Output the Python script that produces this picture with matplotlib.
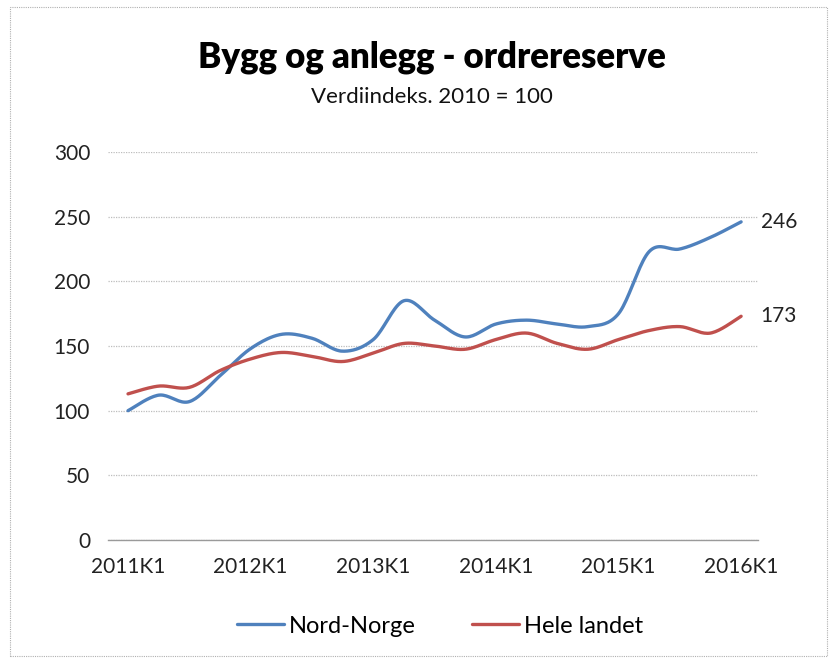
import numpy as np
import matplotlib
matplotlib.use("Agg")
import matplotlib.pyplot as plt
from matplotlib.patches import Rectangle

plt.rcParams["font.family"] = ["Lato", "DejaVu Sans"]

# Kvartaler 2011K1 - 2016K1
quarters = [f"{y}K{q}" for y in range(2011, 2017) for q in range(1, 5)][:21]
tick_labels = ["2011K1", "2012K1", "2013K1", "2014K1", "2015K1", "2016K1"]

nord_norge = [100, 112, 107, 127, 148, 159, 156, 146, 155, 185, 170, 157,
              167, 170, 167, 165, 175, 223, 225, 234, 246]
hele_landet = [113, 119, 118, 131, 140, 145, 142, 138, 144.5, 152, 150, 147.5,
               155, 160, 152, 147.5, 155, 162, 165, 160, 173]

BLUE = "#4F81BD"
RED = "#C0504D"


def smooth(y, n=20):
    """Catmull-Rom kurve gjennom punktene (som Excel 'glatt linje')."""
    y = np.asarray(y, dtype=float)
    x = np.arange(len(y), dtype=float)
    px = np.concatenate([[x[0]], x, [x[-1]]])
    py = np.concatenate([[y[0]], y, [y[-1]]])
    xs, ys = [], []
    t = np.linspace(0, 1, n, endpoint=False)
    for i in range(1, len(px) - 2):
        for arr, out in ((px, xs), (py, ys)):
            p0, p1, p2, p3 = arr[i - 1], arr[i], arr[i + 1], arr[i + 2]
            out.extend(0.5 * ((2 * p1) + (-p0 + p2) * t
                              + (2 * p0 - 5 * p1 + 4 * p2 - p3) * t ** 2
                              + (-p0 + 3 * p1 - 3 * p2 + p3) * t ** 3))
    xs.append(x[-1])
    ys.append(y[-1])
    return np.array(xs), np.array(ys)


fig = plt.figure(figsize=(8.38, 6.59), dpi=100)
ax = fig.add_axes([0.129, 0.1806, 0.7755, 0.5887])

for data, color, label in ((nord_norge, BLUE, "Nord-Norge"), (hele_landet, RED, "Hele landet")):
    sx, sy = smooth(data)
    ax.plot(sx, sy, color=color, lw=2.4, label=label, solid_capstyle="round")
    ax.annotate(f"{data[-1]:.0f}", (len(data) - 1, data[-1]), xytext=(14, 0),
                textcoords="offset points", va="center", ha="left",
                fontsize=15, color="#222222")

ax.set_ylim(0, 300)
ax.set_xlim(-0.65, 20.55)
ax.set_yticks(range(0, 301, 50))
ax.set_xticks([quarters.index(t) for t in tick_labels])
ax.set_xticklabels(tick_labels)
ax.tick_params(axis="both", length=0, labelsize=15, colors="#222222")
ax.tick_params(axis="y", pad=13)
ax.tick_params(axis="x", pad=12)

ax.grid(axis="y", color="#bdbdbd", lw=0.9, ls=(0, (1, 1)))
ax.set_axisbelow(True)
for s in ("top", "right", "left"):
    ax.spines[s].set_visible(False)
ax.spines["bottom"].set_color("#9a9a9a")
ax.spines["bottom"].set_linewidth(1.0)

fig.text(0.516, 0.913, "Bygg og anlegg - ordrereserve", ha="center", va="center",
         fontsize=25, fontweight="heavy", color="black")
fig.text(0.516, 0.853, "Verdiindeks. 2010 = 100", ha="center", va="center",
         fontsize=16, color="#111111")

fig.legend(loc="center", bbox_to_anchor=(0.525, 0.05), ncol=2, frameon=False,
           fontsize=17, handlelength=2.0, handletextpad=0.2, columnspacing=2.4)

fig.add_artist(Rectangle((0.012, 0.004), 0.975, 0.985, transform=fig.transFigure,
                         fill=False, edgecolor="#b0b0b0", lw=0.8, ls=(0, (1, 1))))

fig.savefig("out.png", dpi=100)
